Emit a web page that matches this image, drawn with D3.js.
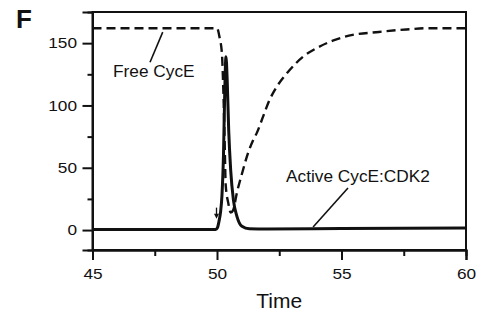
<!DOCTYPE html>
<html>
<head>
<meta charset="utf-8">
<script src="https://cdn.jsdelivr.net/npm/d3@7"></script>
<style>
  html, body { margin: 0; padding: 0; background: #fff; }
  svg { display: block; }
  text { font-family: "Liberation Sans", Arial, Helvetica, sans-serif; fill: #111; }
</style>
</head>
<body>
<svg id="chart" width="482" height="315"></svg>
<script>
// ---- data ----
const freeTime = [45, 50.0, 50.1, 50.2, 50.25, 50.3, 50.35, 50.45, 50.55, 50.65, 50.8, 51.0, 51.25, 51.45, 51.6, 51.85, 52.1, 52.4, 52.9, 53.45, 54.0, 54.65, 55.3, 56.5, 57.6, 58.5, 60];
const freeVal  = [162, 162, 155, 141, 115, 78, 36, 22, 14, 16, 30, 45, 62, 72, 78, 91, 104, 115, 128, 139, 146, 152, 156, 159, 161, 162, 162];

const activeTime = [45, 49.95, 50.02, 50.08, 50.14, 50.2, 50.26, 50.31, 50.36, 50.41, 50.47, 50.55, 50.66, 50.8, 51.0, 51.3, 52, 55, 60];
const activeVal  = [0.5, 0.5, 2, 7, 14, 28, 60, 110, 139, 120, 80, 48, 24, 11, 3, 1, 0.8, 1.2, 1.6];

const xMajor = [45, 50, 55, 60];
const xMinor = [47.5, 52.5, 57.5];
const yMajor = [0, 50, 100, 150];
const yMinor = [25, 75, 125];

const xLabel = "Time";
const panelLabel = "F";
const freeLabel = "Free CycE";
const activeLabel = "Active CycE:CDK2";

// ---- scales ----
const svg = d3.select("#chart");
const x = d3.scaleLinear().domain([45, 60]).range([92.5, 466]);
const y = d3.scaleLinear().domain([-16, 175]).range([250, 12]);
const ink = "#111";

// frame
svg.append("rect")
  .attr("x", x(45)).attr("y", y(175))
  .attr("width", x(60) - x(45)).attr("height", y(-16) - y(175))
  .attr("fill", "none").attr("stroke", ink).attr("stroke-width", 2);

// axes
const sx = 1.15;
const gy = svg.append("g").attr("transform", `translate(${x(45)},0)`)
  .call(d3.axisLeft(y).tickValues(yMajor).tickSize(10).tickPadding(5.5));
gy.selectAll("text")
  .style("font-size", "15px")
  .attr("x", -15.5 / sx)
  .attr("transform", `scale(${sx},1)`);
const gy2 = svg.append("g").attr("transform", `translate(${x(45)},0)`)
  .call(d3.axisLeft(y).tickValues(yMinor).tickSize(5).tickFormat(""));

const gx = svg.append("g").attr("transform", `translate(0,${y(-16)})`)
  .call(d3.axisBottom(x).tickValues(xMajor).tickSize(10).tickPadding(8.3));
gx.selectAll("text")
  .style("font-size", "15px")
  .attr("transform", `scale(${sx},1)`)
  .attr("x", function(d){ return 0; });
const gx2 = svg.append("g").attr("transform", `translate(0,${y(-16)})`)
  .call(d3.axisBottom(x).tickValues(xMinor).tickSize(6).tickFormat(""));

[gy, gy2, gx, gx2].forEach(g => {
  g.select(".domain").attr("stroke", ink).attr("stroke-width", 2);
  g.selectAll(".tick line").attr("stroke", ink).attr("stroke-width", 2);
  g.selectAll("text").attr("fill", ink).style("font-family", "'Liberation Sans', Arial, sans-serif");
});

// lines
const line = d3.line().x(d => x(d[0])).y(d => y(d[1])).curve(d3.curveMonotoneX);

svg.append("path")
  .datum(freeTime.map((t, i) => [t, freeVal[i]]))
  .attr("d", line)
  .attr("fill", "none").attr("stroke", ink).attr("stroke-width", 2.4)
  .attr("stroke-dasharray", "9,5");

svg.append("path")
  .datum(activeTime.map((t, i) => [t, activeVal[i]]))
  .attr("d", line)
  .attr("fill", "none").attr("stroke", ink).attr("stroke-width", 3)
  .attr("stroke-linejoin", "round");

// arrow at t = 50
const arrowT = 50, arrowFrom = 18, arrowTo = 9;
svg.append("line")
  .attr("x1", x(arrowT) - 0.5).attr("x2", x(arrowT) - 0.5)
  .attr("y1", y(arrowFrom)).attr("y2", y(arrowTo) - 3)
  .attr("stroke", ink).attr("stroke-width", 1.3);
svg.append("path")
  .attr("d", `M${x(arrowT) - 3},${y(arrowTo) - 5} L${x(arrowT) + 2},${y(arrowTo) - 5} L${x(arrowT) - 0.5},${y(arrowTo)} Z`)
  .attr("fill", ink);

// leader lines
const freeLeader = [[47.82, 158.8], [47.31, 134.7]];
const activeLeader = [[55.26, 33.7], [53.86, 2.4]];
[freeLeader, activeLeader].forEach(p => {
  svg.append("line")
    .attr("x1", x(p[0][0])).attr("y1", y(p[0][1]))
    .attr("x2", x(p[1][0])).attr("y2", y(p[1][1]))
    .attr("stroke", ink).attr("stroke-width", 1.6);
});

// labels
const as = 1.08;
svg.append("text")
  .attr("transform", `translate(${113},${77}) scale(${as},1)`)
  .style("font-size", "16px").text(freeLabel);
svg.append("text")
  .attr("transform", `translate(${286},${182}) scale(${as},1)`)
  .style("font-size", "16px").text(activeLabel);

svg.append("text")
  .attr("x", (x(45) + x(60)) / 2).attr("y", 308)
  .attr("text-anchor", "middle")
  .style("font-size", "21px").text(xLabel);

svg.append("text")
  .attr("x", 16).attr("y", 28)
  .style("font-size", "26px").style("font-weight", "bold").text(panelLabel);
</script>
</body>
</html>
